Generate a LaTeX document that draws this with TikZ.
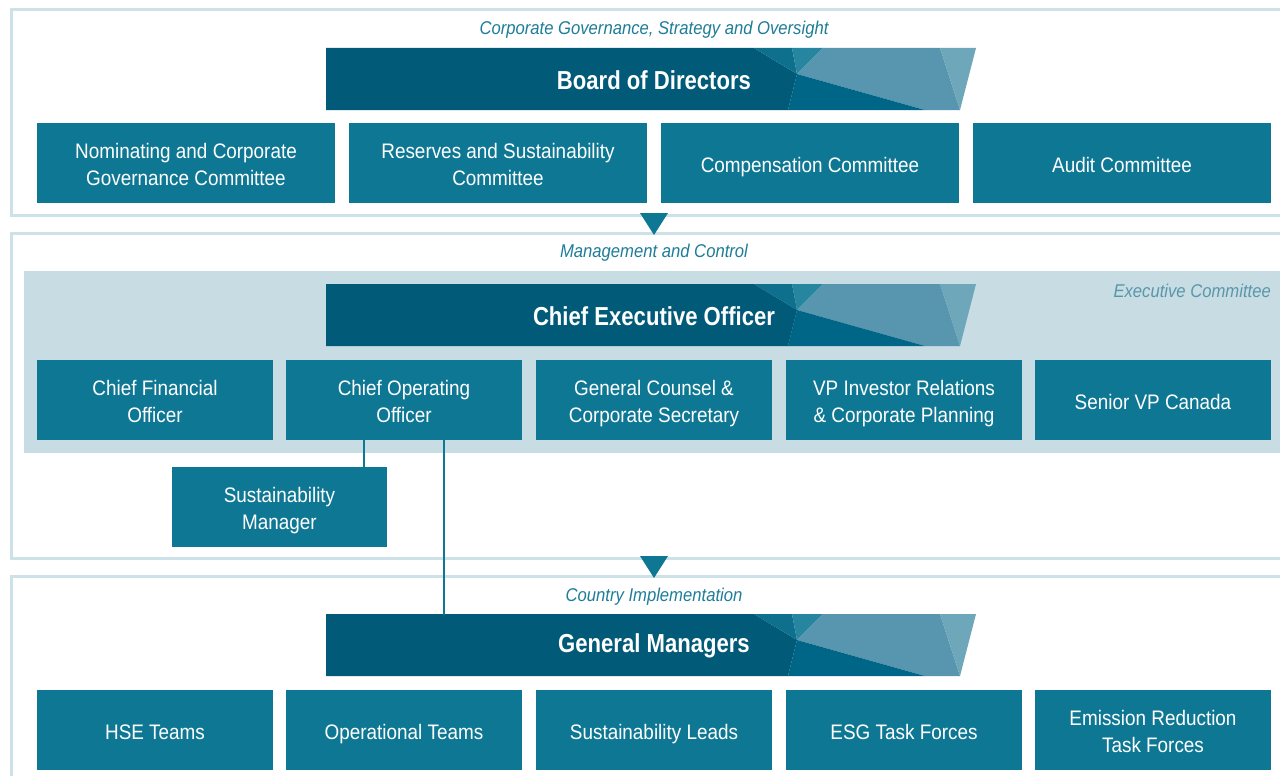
\documentclass[tikz,border=0pt]{standalone}
\usepackage{fontspec}
\setmainfont{Liberation Sans}
\newfontfamily\boxfont[FakeStretch=0.9]{Liberation Sans}
\newfontfamily\headfont[FakeStretch=0.85]{Liberation Sans}
\definecolor{boxteal}{RGB}{14,120,148}
\definecolor{bandark}{RGB}{0,90,120}
\definecolor{facetA}{RGB}{14,112,140}
\definecolor{facetB}{RGB}{38,134,160}
\definecolor{facetC}{RGB}{87,150,174}
\definecolor{facetD}{RGB}{110,166,186}
\definecolor{facetE}{RGB}{0,102,136}
\definecolor{execbg}{RGB}{200,220,228}
\definecolor{framecol}{RGB}{205,225,233}
\definecolor{labteal}{RGB}{30,125,152}
\definecolor{execlab}{RGB}{90,150,170}
\tikzset{
  box/.style={fill=boxteal,text=white,align=center,inner sep=0pt,minimum height=80pt,
    font={\boxfont\fontsize{21}{27}\selectfont},
    execute at begin node={\rule{0pt}{25pt}},execute at end node={\rule[-6pt]{0pt}{6pt}}},
  dbl/.style={execute at begin node={\rule{0pt}{51pt}}},
  widebox/.style={box,minimum width=298pt},
  midbox/.style={box,minimum width=236pt},
  banner/.style={text=white,inner sep=0pt,minimum width=650pt,minimum height=62pt,
    font={\headfont\bfseries\fontsize{26}{30}\selectfont}},
  tier/.style={text=labteal,inner sep=0pt,font={\boxfont\itshape\fontsize{18.5}{22}\selectfont}},
  frame/.style={draw=framecol,line width=3pt},
  link/.style={draw=boxteal,line width=2.5pt}
}
\begin{document}
\begin{tikzpicture}[x=1pt,y=-1pt]
  \useasboundingbox (0,0) rectangle (1280,776);
  \clip (0,0) rectangle (1280,776);
  \fill[white] (0,0) rectangle (1280,776);
  % three tiers
  \draw[frame] (11,10) rectangle (1300,215);
  \draw[frame] (11,233) rectangle (1300,558);
  \draw[frame] (11,576) rectangle (1300,800);
  \fill[execbg] (24,271) rectangle (1300,453);
  % banners
  \foreach \nm/\y/\txt in {bod/48/Board of Directors,ceo/284/Chief Executive Officer,gm/614/General Managers}{
    \begin{scope}[shift={(326,\y)}]
      \fill[bandark] (0,0) -- (428,0) -- (471,26) -- (462,62) -- (0,62) -- cycle;
      \fill[facetA] (428,0) -- (466,0) -- (471,26) -- cycle;
      \fill[facetB] (466,0) -- (497,0) -- (471,26) -- cycle;
      \fill[facetC] (497,0) -- (614,0) -- (634,62) -- (599,62) -- (471,26) -- cycle;
      \fill[facetD] (614,0) -- (650,0) -- (634,62) -- cycle;
      \fill[facetE] (471,26) -- (599,62) -- (462,62) -- cycle;
    \end{scope}
    \node[banner] (\nm) at (654,\y+32) {\txt};
  }
  % tier labels
  \node[tier] (govlab) at (654,30) {Corporate Governance, Strategy and Oversight};
  \node[tier] (mgmtlab) at (654,253) {Management and Control};
  \node[tier] (ctrylab) at (654,596.5) {Country Implementation};
  \node[tier,text=execlab,anchor=east] (execlab) at (1271,291) {Executive Committee};
  % board committees
  \node[widebox,dbl] (nomc) at (186,163) {Nominating and Corporate\\Governance Committee};
  \node[widebox,dbl] (resc) at (498,163) {Reserves and Sustainability\\Committee};
  \node[widebox] (compc) at (810,163) {Compensation Committee};
  \node[widebox] (audc) at (1122,163) {Audit Committee};
  % executive committee
  \node[midbox,dbl] (cfo) at (155,400) {Chief Financial\\Officer};
  \node[midbox,dbl] (coo) at (404,400) {Chief Operating\\Officer};
  \node[midbox,dbl] (gcs) at (654,400) {General Counsel \&\\Corporate Secretary};
  \node[midbox,dbl] (vpir) at (904,400) {VP Investor Relations\\\& Corporate Planning};
  \node[midbox] (svpc) at (1153,400) {Senior VP Canada};
  \node[box,dbl,minimum width=215pt] (sm) at (279.5,507) {Sustainability\\Manager};
  % country teams
  \node[midbox] (hse) at (155,730) {HSE Teams};
  \node[midbox] (opt) at (404,730) {Operational Teams};
  \node[midbox] (sl) at (654,730) {Sustainability Leads};
  \node[midbox] (esg) at (904,730) {ESG Task Forces};
  \node[midbox,dbl] (ertf) at (1153,730) {Emission Reduction\\Task Forces};
  % tier arrows
  \fill[boxteal] (640,213) -- (668,213) -- (654,235) -- cycle;
  \fill[boxteal] (640,556) -- (668,556) -- (654,578) -- cycle;
  % reporting lines
  \draw[link] ([xshift=-40pt]coo.south) -- ([xshift=-40pt]coo.south |- sm.north);
  \draw[link] ([xshift=40pt]coo.south) -- ([xshift=40pt]coo.south |- gm.north);
\end{tikzpicture}
\end{document}
